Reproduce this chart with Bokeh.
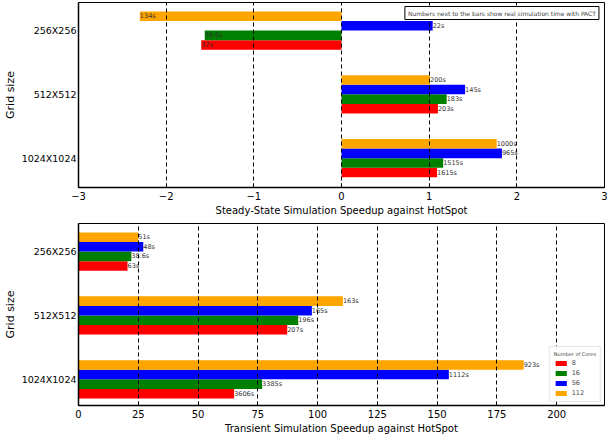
from bokeh.plotting import figure
from bokeh.layouts import column
from bokeh.models import FixedTicker, Label
from bokeh.embed import file_html
from bokeh.resources import INLINE

# ---- data ----
grid_sizes = ["1024X1024", "512X512", "256X256"]
cores = ["8", "16", "56", "112"]
colors = ["red", "green", "blue", "orange"]

steady_8 = [1.09, 1.10, -1.60]
steady_16 = [1.16, 1.20, -1.56]
steady_56 = [1.83, 1.41, 1.04]
steady_112 = [1.77, 1.01, -2.30]
steady_t8 = ["1615s", "203s", "37s"]
steady_t16 = ["1515s", "183s", "36.6s"]
steady_t56 = ["965s", "145s", "22s"]
steady_t112 = ["1000s", "200s", "134s"]

trans_8 = [65.1, 87.3, 20.5]
trans_16 = [76.8, 91.9, 22.1]
trans_56 = [154.9, 97.6, 27.1]
trans_112 = [186.2, 110.6, 25.0]
trans_t8 = ["3606s", "207s", "63s"]
trans_t16 = ["3385s", "196s", "38.6s"]
trans_t56 = ["1112s", "165s", "48s"]
trans_t112 = ["923s", "163s", "51s"]

steady_ticks = [-3, -2, -1, 0, 1, 2, 3]
trans_ticks = [0, 25, 50, 75, 100, 125, 150, 175, 200]

FONT = "DejaVu Sans"
BAR_H = 0.15
offsets = [-0.225, -0.075, 0.075, 0.225]


def make_fig(x_range, y_range, frame_h, top_border, xlabel, xticks):
    p = figure(frame_width=526, frame_height=frame_h, x_range=x_range, y_range=y_range,
               output_backend="svg", toolbar_location=None,
               min_border_left=71, min_border_right=9, min_border_top=top_border,
               min_border_bottom=0)
    p.outline_line_color = "black"
    p.outline_line_width = 1
    p.background_fill_color = "white"
    p.ygrid.grid_line_color = None
    p.xgrid.grid_line_color = "black"
    p.xgrid.grid_line_dash = "4 3"
    p.xgrid.grid_line_width = 1
    p.xgrid.level = "overlay"
    p.xaxis.ticker = FixedTicker(ticks=xticks)
    p.yaxis.ticker = FixedTicker(ticks=[0, 1, 2])
    p.yaxis.major_label_overrides = {i: g for i, g in enumerate(grid_sizes)}
    p.xaxis.axis_label = xlabel
    p.yaxis.axis_label = "Grid size"
    for ax in (p.xaxis, p.yaxis):
        ax.axis_line_color = "black"
        ax.axis_line_width = 1.5
        ax.major_tick_in = 4
        ax.major_tick_out = 0
        ax.minor_tick_line_color = None
        ax.major_label_text_font = FONT
        ax.major_label_text_color = "black"
        ax.axis_label_text_font = FONT
        ax.axis_label_text_font_style = "normal"
        ax.axis_label_text_color = "black"
    p.xaxis.major_label_text_font_size = "10px"
    p.yaxis.major_label_text_font_size = "9.5px"
    p.xaxis.axis_label_text_font_size = "10px"
    p.yaxis.axis_label_text_font_size = "11px"
    p.xaxis.major_label_standoff = 4
    p.xaxis.axis_label_standoff = 2
    p.yaxis.major_label_standoff = 2
    p.yaxis.axis_label_standoff = 2
    p.yaxis.major_tick_in = 0
    return p


def draw(p, series, labels, legend):
    base = [0, 1, 2]
    for k, (vals, labs) in enumerate(zip(series, labels)):
        ys = [b + offsets[k] for b in base]
        kw = dict(legend_label=cores[k]) if legend else {}
        p.hbar(y=ys, left=0, right=vals, height=BAR_H, fill_color=colors[k],
               line_color=None, **kw)
        p.text(x=vals, y=ys, text=labs, text_font_size="6.5px", text_baseline="middle",
               text_align="left", text_color="#333333", text_font={"value": FONT})


p1 = make_fig((-3, 3), (-0.46, 2.44), 185, 2,
              "Steady-State Simulation Speedup against HotSpot", steady_ticks)
draw(p1, [steady_8, steady_16, steady_56, steady_112],
     [steady_t8, steady_t16, steady_t56, steady_t112], False)
note = Label(x=1.83, y=2.44, y_offset=-4, text="Numbers next to the bars show real simulation time with PACT",
             text_font=FONT, text_font_size="6px", text_align="center", text_baseline="top",
             border_line_color="black", border_line_width=1, background_fill_color="white",
             padding=3, level="overlay")
p1.add_layout(note)

p2 = make_fig((0, 220), (-0.41, 2.44), 182, 5,
              "Transient Simulation Speedup against HotSpot", trans_ticks)
draw(p2, [trans_8, trans_16, trans_56, trans_112],
     [trans_t8, trans_t16, trans_t56, trans_t112], True)
lg = p2.legend[0]
lg.location = "bottom_right"
lg.title = "Number of Cores"
lg.title_text_font = FONT
lg.title_text_font_size = "5px"
lg.title_text_font_style = "normal"
lg.title_standoff = 2
lg.label_text_font = FONT
lg.label_text_font_size = "6.5px"
lg.label_height = 8
lg.glyph_height = 6
lg.glyph_width = 14
lg.spacing = 2
lg.padding = 4
lg.margin = 3
lg.border_line_color = "#cccccc"
lg.label_standoff = 4
lg.level = "overlay"

layout = column(p1, p2, spacing=0)
open("out.html", "w").write(file_html(layout, INLINE))
